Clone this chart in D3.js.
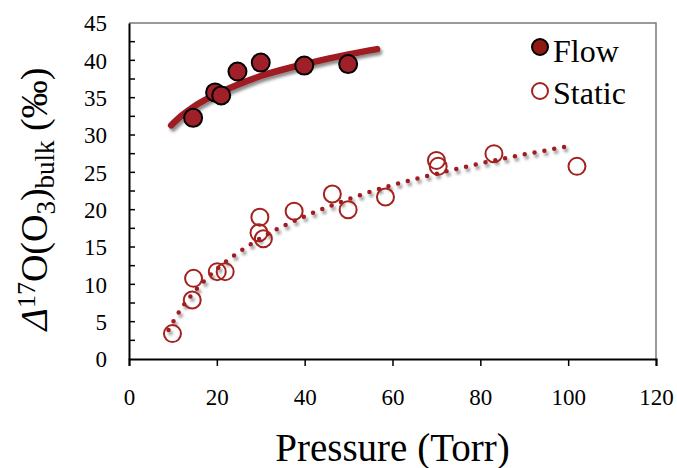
<!DOCTYPE html>
<html>
<head>
<meta charset="utf-8">
<script src="https://cdn.jsdelivr.net/npm/d3@7"></script>
<style>
  html, body { margin: 0; padding: 0; background: #fff; }
  svg { display: block; }
  text { font-family: 'Liberation Serif', Tinos, 'Times New Roman', Times, serif; }
</style>
</head>
<body>
<svg id="chart" width="677" height="468"></svg>
<script>
// ---- Data ----
const flowPressure = [14.6, 19.6, 21.0, 24.7, 30.0, 39.9, 49.9];
const flowD17O     = [32.3, 35.7, 35.3, 38.5, 39.7, 39.3, 39.5];

const staticPressure = [9.9, 14.4, 14.7, 20.1, 21.9, 29.6, 30.6, 29.8, 37.6, 46.3, 49.9, 58.4, 70.0, 70.4, 83.1, 102.0];
const staticD17O     = [3.4, 7.9, 10.8, 11.7, 11.7, 16.9, 16.1, 19.0, 19.8, 22.1, 20.0, 21.7, 26.6, 25.8, 27.5, 25.8];

// trend lines
const flowFitPressure = [9.6, 12, 15, 20, 25, 30, 40, 50, 56.5];
const flowFitD17O     = [31.3, 32.6, 33.9, 35.5, 36.8, 37.9, 39.5, 40.8, 41.5];

const staticFitPressure = [9, 12, 15, 20, 25, 30, 40, 50, 60, 70, 80, 90, 101.2];
const staticFitD17O     = [3.9, 6.85, 9.1, 12.05, 14.3, 16.2, 19.1, 21.4, 23.3, 24.8, 26.2, 27.4, 28.6];

const xTicks = [0, 20, 40, 60, 80, 100, 120];
const yTicks = [0, 5, 10, 15, 20, 25, 30, 35, 40, 45];
const yMinorTicks = [2.5, 7.5, 12.5, 17.5, 22.5, 27.5, 32.5, 37.5, 42.5];

const seriesNames = ["Flow", "Static"];

// ---- Layout ----
const FONT = "'Liberation Serif', Tinos, 'Times New Roman', Times, serif";
const svg = d3.select("#chart").attr("font-family", FONT);
const margin = { left: 129, top: 23 };
const W = 527, H = 336;
const darkRed = "#9e1b20";
const fillRed = "#a0202a";
const openRed = "#a3221e";

const defs = svg.append("defs");
const f = defs.append("filter").attr("id", "shadow")
  .attr("x", "-10%").attr("y", "-10%").attr("width", "130%").attr("height", "140%");
f.append("feDropShadow").attr("dx", 2).attr("dy", 3).attr("stdDeviation", 1.6)
  .attr("flood-color", "#000").attr("flood-opacity", 0.45);

const g = svg.append("g").attr("transform", `translate(${margin.left},${margin.top})`);

const x = d3.scaleLinear().domain([0, 120]).range([0, W]);
const y = d3.scaleLinear().domain([0, 45]).range([H, 0]);

// frame (top & right)
g.append("path")
  .attr("d", `M0,${y(45)}H${x(120)}V${y(0)}`)
  .attr("fill", "none").attr("stroke", "#7a7a7a").attr("stroke-width", 1.5);

// x axis
const xAxis = g.append("g").attr("transform", `translate(0,${H})`)
  .call(d3.axisBottom(x).tickValues(xTicks).tickSize(7).tickPadding(23).tickFormat(d3.format("d")));
xAxis.attr("font-family", FONT);
xAxis.select(".domain").attr("stroke", "#000").attr("stroke-width", 2);
xAxis.selectAll(".tick line").attr("stroke", "#000").attr("stroke-width", 1.5);
xAxis.selectAll(".tick text").attr("font-size", 23).attr("fill", "#000");

// y axis
const yAxis = g.append("g")
  .call(d3.axisLeft(y).tickValues(yTicks).tickSize(0).tickPadding(22).tickFormat(d3.format("d")));
yAxis.attr("font-family", FONT);
yAxis.select(".domain").attr("stroke", "#000").attr("stroke-width", 2);
yAxis.selectAll(".tick text").attr("font-size", 23).attr("fill", "#000").attr("dy", "0.34em");
g.append("g").selectAll("line").data(yTicks.concat(yMinorTicks).filter(d => d > 0 && d < 45)).join("line")
  .attr("x1", 0).attr("x2", 6).attr("y1", d => y(d)).attr("y2", d => y(d))
  .attr("stroke", "#000").attr("stroke-width", 1.5);

// trend lines
const line = d3.line().x(d => x(d[0])).y(d => y(d[1])).curve(d3.curveMonotoneX);
g.append("path")
  .datum(flowFitPressure.map((p, i) => [p, flowFitD17O[i]]))
  .attr("d", line).attr("fill", "none").attr("stroke", darkRed)
  .attr("stroke-width", 6.5).attr("stroke-linecap", "round").attr("filter", "url(#shadow)");

g.append("path")
  .datum(staticFitPressure.map((p, i) => [p, staticFitD17O[i]]))
  .attr("d", line).attr("fill", "none").attr("stroke", darkRed)
  .attr("stroke-width", 4.5).attr("stroke-linecap", "round")
  .attr("stroke-dasharray", "0 10").attr("filter", "url(#shadow)");

// points
g.append("g").selectAll("circle")
  .data(staticPressure.map((p, i) => [p, staticD17O[i]])).join("circle")
  .attr("cx", d => x(d[0])).attr("cy", d => y(d[1])).attr("r", 8.5)
  .attr("fill", "none").attr("stroke", openRed).attr("stroke-width", 2);

g.append("g").selectAll("circle")
  .data(flowPressure.map((p, i) => [p, flowD17O[i]])).join("circle")
  .attr("cx", d => x(d[0])).attr("cy", d => y(d[1])).attr("r", 9)
  .attr("fill", fillRed).attr("stroke", "#000").attr("stroke-width", 2);

// legend
const leg = svg.append("g");
leg.append("circle").attr("cx", 540).attr("cy", 47).attr("r", 8)
  .attr("fill", "#8e1a12").attr("stroke", "#000").attr("stroke-width", 2);
leg.append("text").attr("x", 553).attr("y", 61.5).attr("font-size", 32).attr("fill", "#000").text(seriesNames[0]);
leg.append("circle").attr("cx", 540).attr("cy", 91).attr("r", 8)
  .attr("fill", "none").attr("stroke", openRed).attr("stroke-width", 2);
leg.append("text").attr("x", 553).attr("y", 103.5).attr("font-size", 32).attr("fill", "#000").text(seriesNames[1]);

// axis titles
svg.append("text").attr("x", margin.left + W / 2).attr("y", 461)
  .attr("text-anchor", "middle").attr("font-size", 39).attr("fill", "#000")
  .text("Pressure (Torr)");

const yt = svg.append("text").attr("transform", "translate(47,199) rotate(-90)")
  .attr("text-anchor", "middle").attr("font-size", 38).attr("fill", "#000");
yt.append("tspan").attr("font-style", "italic").text("Δ");
yt.append("tspan").attr("font-size", 26).attr("dy", -12).text("17");
yt.append("tspan").attr("dy", 12).text("O(O");
yt.append("tspan").attr("font-size", 27).attr("dy", 8).text("3");
yt.append("tspan").attr("dy", -8).text(")");
yt.append("tspan").attr("font-size", 27).attr("dy", 7).text("bulk");
yt.append("tspan").attr("dy", -7).text(" (‰)");
</script>
</body>
</html>
